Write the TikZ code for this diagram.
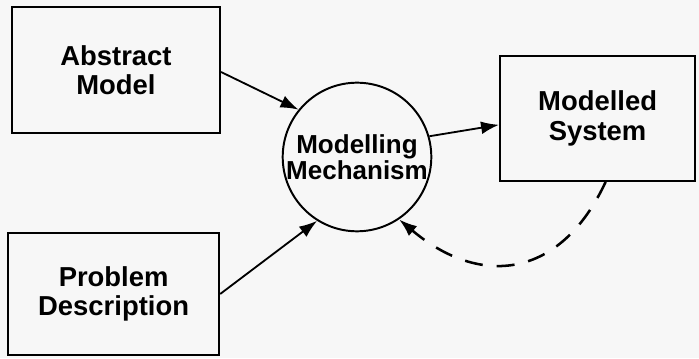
\documentclass[tikz,border=0pt]{standalone}
\usepackage{fontspec}
\setmainfont{Liberation Sans}
\usepackage{tikz}
\usetikzlibrary{arrows.meta}
\definecolor{paper}{RGB}{247,247,247}
\tikzstyle{arrow} = [-{Latex[length=4.5mm,width=3.2mm]}, line width=1.3pt]
\tikzstyle{box} = [draw, line width=1.5pt, align=center, font=\fontsize{19.5}{21}\selectfont\bfseries]
\tikzstyle{mech} = [draw, circle, line width=1.4pt, align=center, inner sep=0pt, font=\fontsize{18.5}{17}\selectfont\bfseries]

\begin{document}
\begin{tikzpicture}
        \fill[paper] (0,0) rectangle (17.475,8.95);
        \useasboundingbox (0,0) rectangle (17.475,8.95);

        \node[box, minimum width=5.2cm, minimum height=3.15cm] at (2.9,7.2) (abs) {Abstract\\Model};
        \node[box, minimum width=5.275cm, minimum height=3.05cm] at (2.84,1.6) (prob) {Problem\\Description};
        \node[mech, minimum size=3.7cm] at (8.925,5.025) (mm) {Modelling\\Mechanism};
        \node[box, minimum width=4.875cm, minimum height=3.125cm] at (14.94,5.99) (sys) {Modelled\\System};

        \draw[arrow] ([yshift=-0.05cm]abs.east) -- (mm.141);
        \draw[arrow] (prob.east) -- (mm.238);
        \draw[arrow] (mm.16) -- ([yshift=-0.16cm]sys.west);
        \draw[arrow, line width=1.8pt, dash pattern=on 0.45cm off 0.35cm] ([xshift=0.2cm]sys.south) to [out=-115, in=-40, looseness=1.3] (mm.-56);

    \end{tikzpicture}
\end{document}
